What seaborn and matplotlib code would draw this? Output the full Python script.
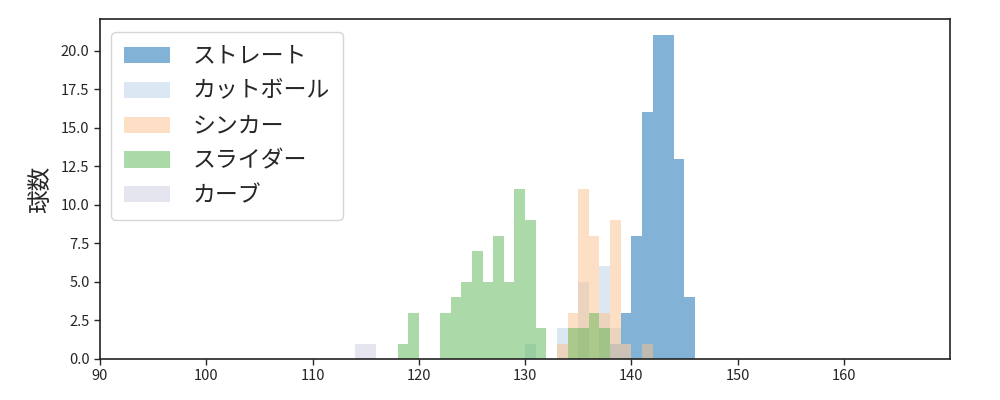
import numpy as np
import pandas as pd
import matplotlib
matplotlib.use("Agg")
import matplotlib.pyplot as plt
import seaborn as sns

sns.set_style("white")
plt.rcParams['font.family'] = ['Noto Sans CJK JP', 'DejaVu Sans']

# bin left edges (1 km/h bins) and counts per pitch type
straight_bins = [138, 139, 140, 141, 142, 143, 144, 145]
straight_counts = [1, 3, 8, 16, 21, 21, 13, 4]

cutter_bins = [130, 133, 135, 137, 138, 139]
cutter_counts = [1, 2, 5, 6, 2, 1]

sinker_bins = [133, 134, 135, 136, 137, 138, 139, 141]
sinker_counts = [1, 3, 11, 8, 3, 9, 1, 1]

slider_bins = [118, 119, 122, 123, 124, 125, 126, 127, 128, 129, 130, 131, 134, 135, 136, 137]
slider_counts = [1, 3, 3, 4, 5, 7, 5, 8, 5, 11, 9, 2, 2, 2, 3, 2]

curve_bins = [114, 115]
curve_counts = [1, 1]

labels = ["ストレート", "カットボール", "シンカー", "スライダー", "カーブ"]
colors = ["#0967b1", "#b9d1e9", "#fbc18b", "#59b553", "#cdcde1"]

series = [
    (straight_bins, straight_counts),
    (cutter_bins, cutter_counts),
    (sinker_bins, sinker_counts),
    (slider_bins, slider_counts),
    (curve_bins, curve_counts),
]

fig, ax = plt.subplots(figsize=(10, 4), dpi=100)
fig.subplots_adjust(left=0.1, right=0.95, top=0.9525, bottom=0.1025)

for (b, c), lab, col in zip(series, labels, colors):
    df = pd.DataFrame({"speed": np.array(b, dtype=float) + 0.5,
                       "n": np.array(c, dtype=float)})
    sns.histplot(data=df, x="speed", weights="n", binwidth=1, binrange=(90, 170),
                 color=col, alpha=0.5, linewidth=0, label=lab, ax=ax)

ax.set_xlim(90, 170)
ax.set_xticks(range(90, 170, 10))
ax.set_yticks(np.arange(0, 21, 2.5))
ax.set_yticklabels([f"{v:.1f}" for v in np.arange(0, 21, 2.5)])
ax.set_xlabel("")
ax.set_ylabel("球数", fontsize=17, labelpad=6)
ax.tick_params(axis="both", labelsize=10.5, length=4, width=1, direction="out", bottom=True, left=True)
for s in ax.spines.values():
    s.set_color("#222222")
    s.set_linewidth(1.2)

ax.legend(loc="upper left", fontsize=16.5, frameon=True, handlelength=2.0,
          labelspacing=0.52, borderpad=0.55, handletextpad=1.0,
          bbox_to_anchor=(0.0, 0.995))

fig.savefig("out.png", dpi=100)
